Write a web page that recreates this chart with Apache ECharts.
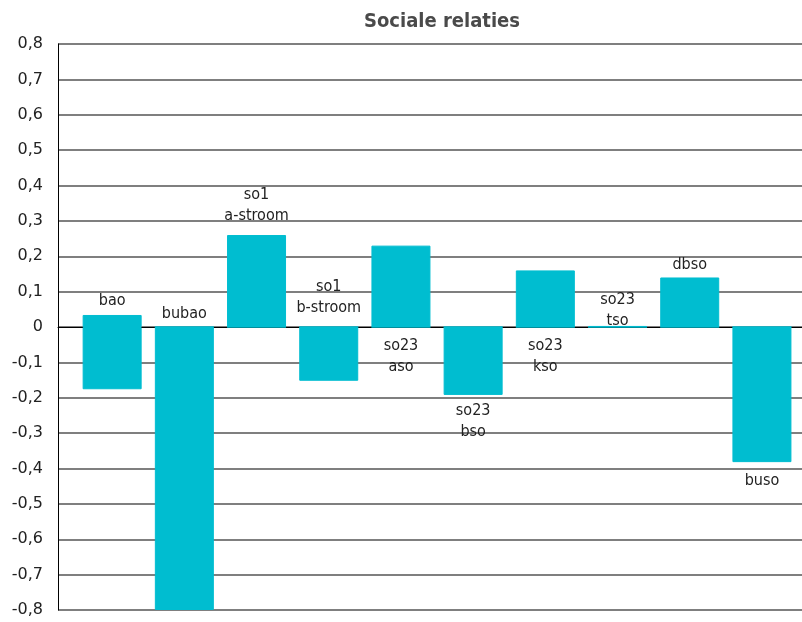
<!DOCTYPE html>
<html>
<head>
<meta charset="utf-8">
<script src="https://cdn.jsdelivr.net/npm/echarts@6/dist/echarts.min.js"></script>
<style>
  html, body { margin: 0; padding: 0; background: #fff; }
  #chart { width: 802px; height: 622px; }
</style>
</head>
<body>
<div id="chart"></div>
<script>
// Categories (label text, line breaks included)
const categories = ['bao', 'bubao', 'so1\na-stroom', 'so1\nb-stroom', 'so23\naso', 'so23\nbso', 'so23\nkso', 'so23\ntso', 'dbso', 'buso'];
// Upper end (above zero) and lower end (below zero) of each bar
const upperValues = [0.034, 0, 0.26, 0, 0.23, 0, 0.16, 0.003, 0.14, 0];
const lowerValues = [-0.176, -0.8, 0, -0.152, 0, -0.192, 0, 0, 0, -0.382];
// Value axis ticks
const yTicks = [-0.8, -0.7, -0.6, -0.5, -0.4, -0.3, -0.2, -0.1, 0, 0.1, 0.2, 0.3, 0.4, 0.5, 0.6, 0.7, 0.8];

// Side of the bar each category label sits on, and its gap in pixels
const labelSide = ['top', 'top', 'top', 'top', 'bottom', 'bottom', 'bottom', 'top', 'top', 'bottom'];
const labelGap = [3, 2, 8, 8, 8, 5, 8, -6, 2, 8];

const BAR_COLOR = '#00bdd0';
const TEXT_COLOR = '#222222';
const LABEL_FONT = '"DejaVu Sans Condensed", "DejaVu Sans", sans-serif';
const TICK_FONT = '"DejaVu Sans", sans-serif';
const TITLE_FONT = '"DejaVu Sans Condensed", "DejaVu Sans", sans-serif';

const fmt = v => (Math.abs(v) < 1e-9 ? '0' : v.toFixed(1).replace('.', ','));

const upperData = upperValues.map((v, i) => [i, v]);
const lowerData = lowerValues.map((v, i) => [i, v]);
const labelData = categories.map((c, i) => ({
  value: [i, labelSide[i] === 'top' ? upperValues[i] : lowerValues[i]],
  name: c,
  label: { position: labelSide[i], distance: labelGap[i] }
}));

// The two halves of a bar share one colour and a thin same-colour border,
// so a bar crossing zero reads as one solid block
const barStyle = { color: BAR_COLOR, borderColor: BAR_COLOR, borderWidth: 1 };

const chart = echarts.init(document.getElementById('chart'), null, { renderer: 'canvas' });
chart.setOption({
  animation: false,
  backgroundColor: '#ffffff',
  title: {
    text: 'Sociale relaties',
    left: 437,
    top: 7,
    textAlign: 'center',
    textStyle: { fontFamily: TITLE_FONT, fontSize: 20, fontWeight: 'bold', color: '#4a4a4a' }
  },
  grid: { left: 58, right: 0, top: 44, bottom: 12, containLabel: false },
  xAxis: {
    type: 'value',
    min: -0.75,
    max: 9.555,
    axisLine: { show: true, onZero: true, lineStyle: { color: '#000000', width: 1 } },
    axisTick: { show: false },
    axisLabel: { show: false },
    splitLine: { show: false },
    z: 0
  },
  yAxis: {
    type: 'value',
    min: yTicks[0],
    max: yTicks[yTicks.length - 1],
    interval: 0.1,
    axisLine: { show: true, onZero: false, lineStyle: { color: '#000000', width: 1 } },
    axisTick: { show: false },
    splitLine: { show: true, lineStyle: { color: '#555555', width: 1.5 } },
    axisLabel: {
      fontFamily: TICK_FONT,
      fontSize: 16,
      color: TEXT_COLOR,
      margin: 15,
      formatter: v => fmt(v)
    },
    z: 0
  },
  series: [
    {
      type: 'bar',
      data: upperData,
      barWidth: 59,
      barGap: '-100%',
      itemStyle: barStyle,
      z: 10
    },
    {
      type: 'bar',
      data: lowerData,
      barWidth: 59,
      barGap: '-100%',
      itemStyle: barStyle,
      z: 10
    },
    {
      type: 'scatter',
      data: labelData,
      symbolSize: 1,
      itemStyle: { color: 'rgba(0,0,0,0)' },
      z: 11,
      label: {
        show: true,
        formatter: p => p.name,
        fontFamily: LABEL_FONT,
        fontSize: 16,
        lineHeight: 21,
        color: TEXT_COLOR,
        opacity: 1,
        align: 'center'
      }
    }
  ]
});
</script>
</body>
</html>
